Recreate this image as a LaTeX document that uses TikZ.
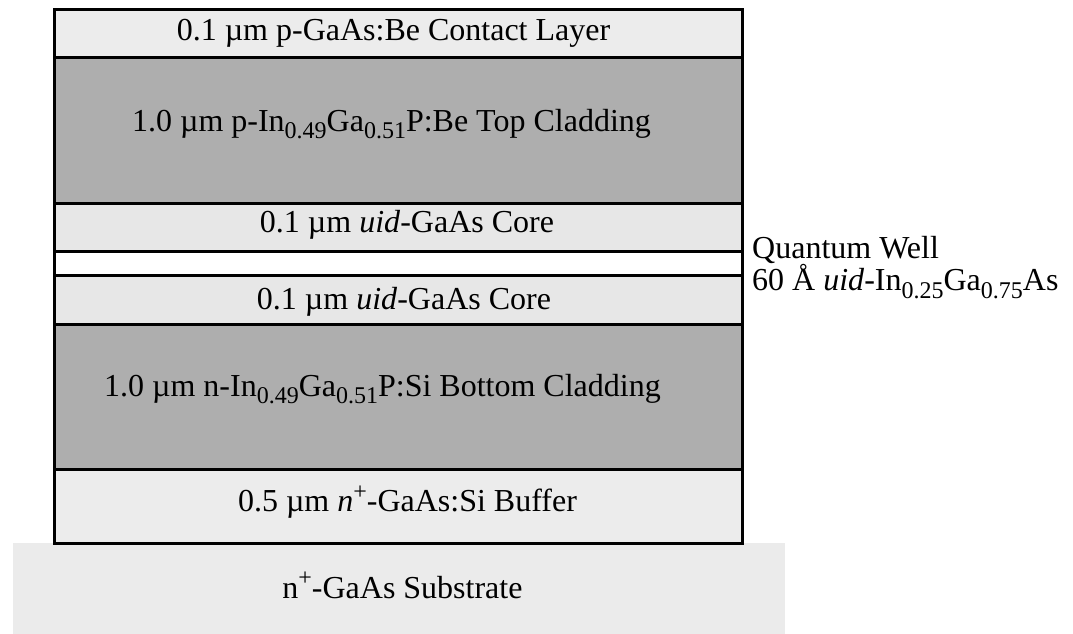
\documentclass[tikz,border=0pt]{standalone}
\usepackage{fontspec}
\setmainfont{Liberation Serif}
% chemical-formula sub- and superscripts in the text face
\newcommand\lsub[1]{\raisebox{-0.23em}{\fontsize{24}{24}\selectfont #1}}
\newcommand\lsup[1]{\raisebox{0.38em}{\fontsize{24}{24}\selectfont #1}}
\definecolor{lightlayer}{HTML}{ECECEC}
\definecolor{corelayer}{HTML}{E7E7E7}
\definecolor{cladlayer}{HTML}{AEAEAE}
\definecolor{substrate}{HTML}{EBEBEB}
\begin{document}
\begin{tikzpicture}[x=1pt,y=-1pt,
  layer/.style={draw=black, line width=3pt, minimum width=688pt, inner sep=0pt, outer sep=0pt},
  lbl/.style={font=\fontsize{32}{38}\selectfont, inner sep=0pt, text height=21pt, text depth=7pt}]
\useasboundingbox (0,0) rectangle (1073,634);
\fill[white] (0,0) rectangle (1073,634);

% substrate (no outline)
\node[fill=substrate, minimum width=772pt, minimum height=91pt, inner sep=0pt] (sub) at (399,588.5) {};

% epitaxial stack, top to bottom
\node[layer, fill=lightlayer, minimum height=48pt]  (contact) at (398,34) {};
\node[layer, fill=cladlayer,  minimum height=145pt] (topclad) at (398,130.5) {};
\node[layer, fill=corelayer,  minimum height=48pt]  (core1)   at (398,227) {};
\node[layer, fill=white,      minimum height=24pt]  (qw)      at (398,263) {};
\node[layer, fill=corelayer,  minimum height=49pt]  (core2)   at (398,299.5) {};
\node[layer, fill=cladlayer,  minimum height=145pt] (botclad) at (398,396.5) {};
\node[layer, fill=lightlayer, minimum height=74pt]  (buffer)  at (398,506) {};

% layer labels
\node[lbl] (contact-t) at ([xshift=-4.5pt,yshift=0.5pt]contact.center) {0.1 µm p-GaAs:Be Contact Layer};
\node[lbl] (topclad-t) at ([xshift=-6.5pt,yshift=6pt]topclad.center) {1.0 µm p-In\lsub{0.49}Ga\lsub{0.51}P:Be Top Cladding};
\node[lbl] (core1-t)   at ([xshift=9pt,yshift=1.5pt]core1.center) {0.1 µm \textit{uid}-GaAs Core};
\node[lbl] (core2-t)   at ([xshift=6pt,yshift=-2.5pt]core2.center) {0.1 µm \textit{uid}-GaAs Core};
\node[lbl] (botclad-t) at ([xshift=-15.5pt,yshift=7.5pt]botclad.center) {1.0 µm n-In\lsub{0.49}Ga\lsub{0.51}P:Si Bottom Cladding};
\node[lbl] (buffer-t)  at ([xshift=9.5pt,yshift=1.5pt]buffer.center) {0.5 µm \textit{n}\lsup{+}-GaAs:Si Buffer};
\node[lbl] (sub-t)     at ([xshift=3.5pt,yshift=-2.5pt]sub.center) {n\lsup{+}-GaAs Substrate};

% quantum well annotation
\node[font=\fontsize{32}{27}\selectfont, inner sep=0pt, align=left, anchor=west]
  (qw-t) at (752,267.5) {Quantum Well\\60 Å \textit{uid}-In\lsub{0.25}Ga\lsub{0.75}As};
\end{tikzpicture}
\end{document}
